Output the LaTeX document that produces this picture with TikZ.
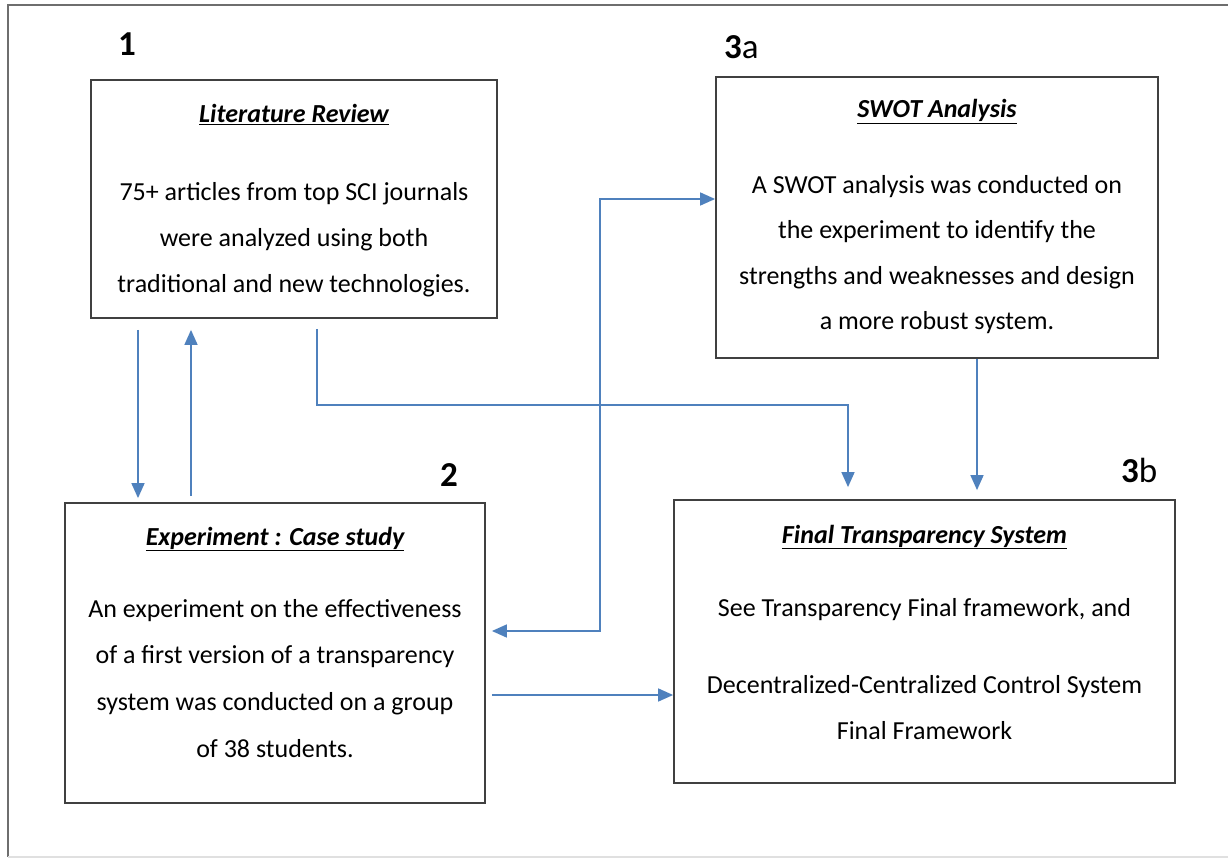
\documentclass[tikz,border=0pt]{standalone}
\usepackage{fontspec}
\setmainfont{Carlito}
\usetikzlibrary{arrows.meta,calc}
\definecolor{arrowblue}{RGB}{79,129,189}
\definecolor{boxgray}{RGB}{64,64,64}
\definecolor{framegray}{RGB}{110,110,110}
\newcommand{\firstln}{\rule{0pt}{22pt}}
\begin{document}
\begin{tikzpicture}[x=1pt,y=-1pt,
  boxnode/.style={draw=boxgray,line width=1.8pt,rectangle,inner sep=0pt},
  titletext/.style={font=\fontsize{26}{30}\selectfont\bfseries\itshape,inner sep=0pt,anchor=base},
  bodytext/.style={align=center,inner sep=0pt,anchor=north},
  numlabel/.style={font=\fontsize{35}{40}\selectfont,inner sep=0pt},
  flow/.style={draw=arrowblue,line width=1.6pt,-{Triangle[length=15pt,width=13pt]}},
  dflow/.style={draw=arrowblue,line width=1.6pt,{Triangle[length=15pt,width=13pt]}-{Triangle[length=15pt,width=13pt]}},
]
\useasboundingbox (0,0) rectangle (1228,858);
% outer frame
\draw[framegray,line width=2pt] (1240,5) -- (8,5) -- (8,857);
\draw[black!12,line width=1.2pt] (8,857) -- (1240,857);

% boxes
\node[boxnode,minimum width=406pt,minimum height=238pt] (lit) at (294,199) {};
\node[boxnode,minimum width=442pt,minimum height=281pt] (swot) at (937,217.5) {};
\node[boxnode,minimum width=420pt,minimum height=300pt] (exp) at (275,653) {};
\node[boxnode,minimum width=501pt,minimum height=283pt] (fin) at (924.5,641.5) {};

% number labels
\node[numlabel,anchor=base] (n1) at (127,56) {\textbf{1}};
\node[numlabel,anchor=base west] (n3a) at (724,59) {\textbf{3}a};
\node[numlabel,anchor=base] (n2) at (449,486) {\textbf{2}};
\node[numlabel,anchor=base west] (n3b) at (1121,482) {\textbf{3}b};

% titles
\node[titletext] (littitle) at (294,123) {\underline{Literature Review}};
\node[titletext] (swottitle) at (937,118) {\underline{SWOT Analysis}};
\node[titletext] (exptitle) at (275,545) {\underline{Experiment : Case study}};
\node[titletext] (fintitle) at (924.5,543) {\underline{Final Transparency System}};

% body texts
\node[bodytext,font=\fontsize{26}{46}\selectfont] (litbody) at (294,178)
  {\firstln 75+ articles from top SCI journals\\ were analyzed using both\\ traditional and new technologies.};
\node[bodytext,font=\fontsize{26}{45.5}\selectfont] (swotbody) at (937,171)
  {\firstln A SWOT analysis was conducted on\\ the experiment to identify the\\ strengths and weaknesses and design\\ a more robust system.};
\node[bodytext,font=\fontsize{26}{46.7}\selectfont] (expbody) at (275,595)
  {\firstln An experiment on the effectiveness\\ of a first version of a transparency\\ system was conducted on a group\\ of 38 students.};
\node[bodytext,font=\fontsize{26}{46}\selectfont] (finbody) at (924.5,594)
  {\firstln See Transparency Final framework, and\\[31pt] Decentralized-Centralized Control System\\ Final Framework};

% helper coordinates
\coordinate (xdown) at (138,0);
\coordinate (xup) at (191,0);
\coordinate (xL) at (317,0);
\coordinate (bendA) at (848,405);
\coordinate (xS) at (977,0);
\coordinate (cD) at (600,631);
\coordinate (cE) at (600,199);
\coordinate (cF) at (0,695);

% connectors
\draw[flow,shorten <=11pt,shorten >=4pt] (lit.south -| xdown) -- (exp.north -| xdown);
\draw[flow,shorten <=6pt,shorten >=11pt] (exp.north -| xup) -- (lit.south -| xup);
\draw[flow,shorten <=10pt,shorten >=12pt] (lit.south -| xL) |- (bendA) -- (fin.north -| bendA);
\draw[flow,shorten >=9pt] (swot.south -| xS) -- (fin.north -| xS);
\draw[dflow,shorten <=6pt] (exp.east |- cD) -- (cD) -- (cE) -- (swot.west |- cE);
\draw[flow,shorten <=6pt] (exp.east |- cF) -- (fin.west |- cF);
\end{tikzpicture}
\end{document}
